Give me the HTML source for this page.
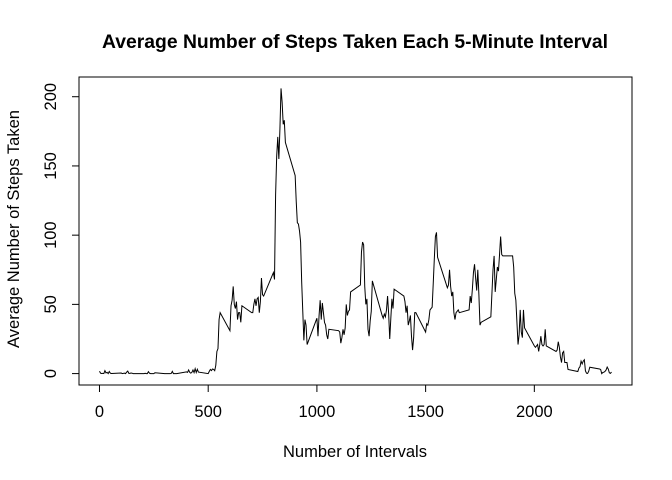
<!DOCTYPE html>
<html><head><meta charset="utf-8"><style>
html,body{margin:0;padding:0;background:#fff;}
svg{display:block;font-family:"Liberation Sans",Arial,sans-serif;}
</style></head><body>
<svg id="chart" width="672" height="480" viewBox="0 0 672 480" xmlns="http://www.w3.org/2000/svg">
<rect width="672" height="480" fill="#fff"/>
<text x="355" y="48" text-anchor="middle" font-size="19" font-weight="bold" textLength="506" lengthAdjust="spacingAndGlyphs">Average Number of Steps Taken Each 5-Minute Interval</text>
<text x="355" y="457" text-anchor="middle" font-size="16.5">Number of Intervals</text>
<text transform="translate(19,229) rotate(-90)" text-anchor="middle" font-size="16.5">Average Number of Steps Taken</text>
<rect x="79" y="77" width="553" height="308" fill="none" stroke="#000" stroke-width="1"/>
<g id="axes"></g>
<path id="line" fill="none" stroke="#000" stroke-width="1"/>
</svg>
<script>
const xTicks = [0, 500, 1000, 1500, 2000];
const yTicks = [0, 50, 100, 150, 200];
const hourValues = [
[1.7,0.3,0.1,0.2,0,2.1,0.5,0.9,0,1.5,0.3,0.1],
[0.4,0,0.2,0.3,0,1.1,1.8,0.2,0.2,0.4,0.3,0],
[0,0,0.2,0,0,1.4,0.3,0,0,0,0,0.6],
[0,0,0,0,0,0,0.1,1.6,0,0,0,0],
[1.2,0.9,2.6,0.9,0.3,0.9,2.6,0.7,3.5,0.8,3.1,1.1],
[0,1.6,3,2.2,3.3,3,2.1,6,16,18,39,44],
[31,49,53,63,50,47,52,39,44,44,37,49],
[44,44,50,54,49,54,55,44,52,69,57,56],
[73,68,129,157,171,155,177,206,196,180,183,167],
[143,124,109,108,103,95,66,45,24,39,35,21],
[40,27,42,53,39,51,44,37,35,28,25,32],
[31,30,22,26,32,28,33,50,42,45,46,59],
[64,88,95,93,63,50,54,32,27,38,45,67],
[42,40,43,41,46,56,43,25,40,54,47,61],
[56,52,44,49,35,38,42,27,17,26,44,44],
[30,36,35,39,46,47,48,65,83,99,102,84],
[62,64,75,63,56,59,44,39,44,45,46,44],
[46,56,51,61,73,79,69,60,75,57,35,37],
[41,58,75,85,59,68,77,74,86,99,86,85],
[85,77,58,53,37,21,28,46,30,26,46,33],
[20,19,20,21,16,21,27,21,20,21,32,20],
[16,17,23,19,12,8,15,16,8,8,8,3],
[1.5,4,5,9,7,9,10,2,0.3,0.1,1.6,4.6],
[3.3,3,0,0.8,1,1.6,2.6,4.7,3.3,0.6,0.2,1.1]
];
const intervals = [];
const steps = [];
hourValues.forEach((row, h) => row.forEach((v, m) => { intervals.push(h * 100 + m * 5); steps.push(v); }));

const L = 79, R = 632, T = 77, B = 385;
const xmin = Math.min(...intervals), xmax = Math.max(...intervals);
const ymin = Math.min(...steps), ymax = Math.max(...steps);
const xpad = (xmax - xmin) * 0.04, ypad = (ymax - ymin) * 0.04;
function xs(v){ return L + (v - (xmin - xpad)) / ((xmax + xpad) - (xmin - xpad)) * (R - L); }
function ys(v){ return B - (v - (ymin - ypad)) / ((ymax + ypad) - (ymin - ypad)) * (B - T); }

const NS = "http://www.w3.org/2000/svg";
const axes = document.getElementById('axes');
function mk(tag, attrs){ const e = document.createElementNS(NS, tag); for (const k in attrs) e.setAttribute(k, attrs[k]); return e; }

const xAxis = mk('line', {x1: xs(xTicks[0]), x2: xs(xTicks[xTicks.length-1]), y1: B, y2: B, stroke: '#000'});


axes.appendChild(xAxis);
xTicks.forEach(t => {
  const tk = mk('line', {x1: xs(t), x2: xs(t), y1: B, y2: B + 7, stroke: '#000'});
  
  
  axes.appendChild(tk);
  const lb = mk('text', {x: xs(t), y: 417, 'text-anchor': 'middle', 'font-size': 16.5});
  
  
  lb.textContent = t;
  axes.appendChild(lb);
});
const yAxis = mk('line', {x1: L, x2: L, y1: ys(yTicks[0]), y2: ys(yTicks[yTicks.length-1]), stroke: '#000'});


axes.appendChild(yAxis);
yTicks.forEach(t => {
  const tk = mk('line', {x1: L - 7, x2: L, y1: ys(t), y2: ys(t), stroke: '#000'});
  
  
  axes.appendChild(tk);
  const lb = mk('text', {transform: 'translate(56,' + ys(t) + ') rotate(-90)', 'text-anchor': 'middle', 'font-size': 16.5});
  
  
  lb.textContent = t;
  axes.appendChild(lb);
});
document.getElementById('line').setAttribute('d',
  intervals.map((x, i) => (i ? 'L' : 'M') + xs(x).toFixed(2) + ' ' + ys(steps[i]).toFixed(2)).join(' '));
</script>
</body></html>
